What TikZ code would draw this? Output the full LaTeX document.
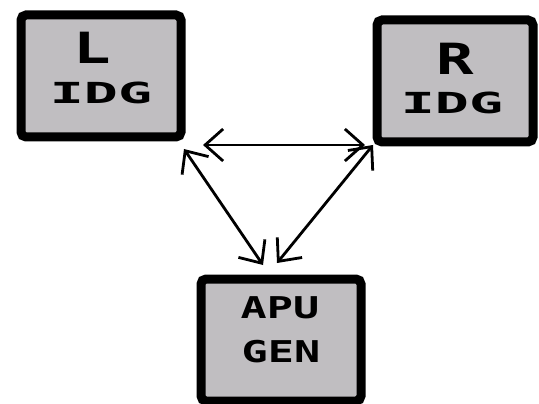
\documentclass[tikz,border=0pt]{standalone}
\usepackage{fontspec}
\usetikzlibrary{arrows.meta}
\newfontfamily\hand{DejaVu Sans Mono}[FakeStretch=1.45]
\newfontfamily\handwide{DejaVu Sans Mono}[FakeStretch=1.95]
\definecolor{boxgray}{RGB}{192,190,193}
\begin{document}
\begin{tikzpicture}[x=1pt,y=-1pt,
  unit/.style={draw=black,fill=boxgray,line width=9pt,rounded corners=5pt,
    inner sep=0pt,outer sep=0pt},
  tag/.style={inner sep=0pt,font=\hand\bfseries\fontsize{30}{30}\selectfont},
  bigtag/.style={inner sep=0pt,font=\hand\bfseries\fontsize{43}{43}\selectfont},
  widetag/.style={inner sep=0pt,font=\handwide\bfseries\fontsize{29}{29}\selectfont},
  barb/.tip={Straight Barb[length=18pt,width=32pt,line width=2.8pt]},
  link/.style={line width=2.8pt,barb-barb}]
\useasboundingbox (0,0) rectangle (539,404);
% generator boxes
\node[unit,minimum width=160pt,minimum height=122pt] (L) at (101,76) {};
\node[unit,minimum width=156pt,minimum height=122pt] (R) at (455,81) {};
\node[unit,minimum width=160pt,minimum height=122pt] (A) at (281,340) {};
% box captions
\node[bigtag]  (Lname) at ([shift={(-9,-28)}]L.center) {L};
\node[widetag] (Ltype) at ([shift={(0,17)}]L.center) {IDG};
\node[bigtag]  (Rname) at ([shift={(0,-22)}]R.center) {R};
\node[widetag] (Rtype) at ([shift={(-3,22)}]R.center) {IDG};
\node[tag]     (Aname) at ([shift={(-1,-32)}]A.center) {APU};
\node[tag]     (Atype) at ([shift={(0,12)}]A.center) {GEN};
% connector ends just outside the box corners
\coordinate (lh) at ([shift={(22,8)}]L.south east);
\coordinate (rh) at ([shift={(-12,3)}]R.south west);
\coordinate (ld) at ([shift={(3,12)}]L.south east);
\coordinate (rd) at ([shift={(-4,3)}]R.south west);
\coordinate (al) at ([shift={(-18,-14)}]A.north);
\coordinate (ar) at ([shift={(-4,-16)}]A.north);
\draw[link] (lh) -- (rh);
\draw[link] (ld) -- (al);
\draw[link] (rd) -- (ar);
\end{tikzpicture}
\end{document}
